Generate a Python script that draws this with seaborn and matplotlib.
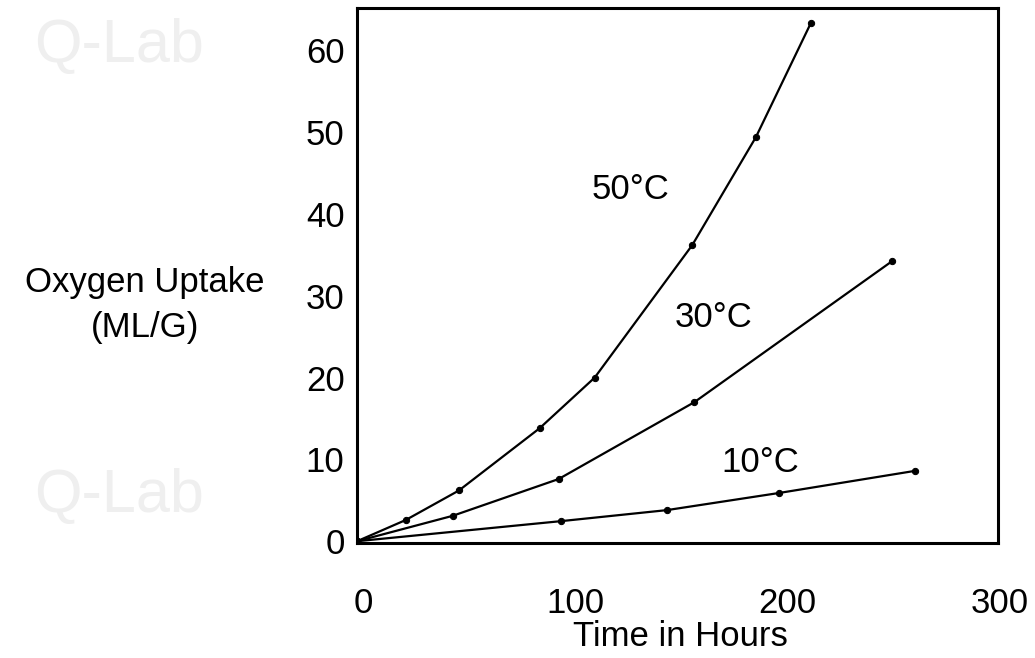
import pandas as pd
import seaborn as sns
import matplotlib.pyplot as plt
import matplotlib.transforms as mtransforms

# values (hours, mL/g)
hours_50 = [0, 23, 48, 86, 112, 158, 188, 214]
uptake_50 = [0, 2.6, 6.2, 13.8, 20.0, 36.2, 49.4, 63.4]
hours_30 = [0, 45, 95, 159, 252]
uptake_30 = [0, 3.1, 7.6, 17.0, 34.2]
hours_10 = [0, 96, 146, 199, 263]
uptake_10 = [0, 2.45, 3.8, 5.9, 8.6]

labels = ["50°C", "30°C", "10°C"]
label_pos = [(129, 43.0), (168, 27.3), (190, 9.6)]

x_ticks = [0, 100, 200, 300]
y_ticks = [0, 10, 20, 30, 40, 50, 60]

df = pd.concat([
    pd.DataFrame({"Hours": hours_50, "Uptake": uptake_50, "Temp": labels[0]}),
    pd.DataFrame({"Hours": hours_30, "Uptake": uptake_30, "Temp": labels[1]}),
    pd.DataFrame({"Hours": hours_10, "Uptake": uptake_10, "Temp": labels[2]}),
])

sns.set_style("white")
plt.rcParams["font.family"] = ["Liberation Sans", "DejaVu Sans"]
plt.rcParams["text.color"] = "black"
plt.rcParams["xtick.color"] = "black"
plt.rcParams["ytick.color"] = "black"

fig = plt.figure(figsize=(10.35, 6.58), dpi=100)
ax = fig.add_axes([0.345, 0.175, 0.619, 0.813])

# faint watermark
for wy in [0.93, 0.245]:
    fig.text(0.115, wy, "Q-Lab", fontsize=44, color="#efefef", ha="center", va="center", zorder=0)

sns.lineplot(data=df, x="Hours", y="Uptake", hue="Temp", units="Temp", estimator=None,
             palette=["black"] * 3, marker="o", markersize=4.5, markeredgecolor="black",
             linewidth=1.6, legend=False, sort=False, ax=ax)

for lab, (lx, ly) in zip(labels, label_pos):
    ax.text(lx, ly, lab, fontsize=25, ha="center", va="center")

ax.set_xlim(0, 302)
ax.set_ylim(-0.2, 65.2)
ax.set_xticks(x_ticks)
ax.set_yticks(y_ticks)
ax.tick_params(axis="x", direction="in", length=11, width=1.5, pad=32, labelsize=25)
ax.tick_params(axis="y", direction="in", length=11, width=1.5, pad=9, labelsize=25)
shift = mtransforms.ScaledTranslation(6 / 100, 0, fig.dpi_scale_trans)
for lbl in ax.get_xticklabels():
    lbl.set_transform(lbl.get_transform() + shift)
ax.set_xlabel("")
ax.set_ylabel("")
for s in ax.spines.values():
    s.set_color("black")
    s.set_linewidth(2.2)

fig.text(0.657, 0.033, "Time in Hours", fontsize=25, ha="center", va="center")
fig.text(0.14, 0.537, "Oxygen Uptake\n(ML/G)", fontsize=25, ha="center", va="center",
         linespacing=1.45)

fig.savefig("out.png", dpi=100, facecolor="white")
